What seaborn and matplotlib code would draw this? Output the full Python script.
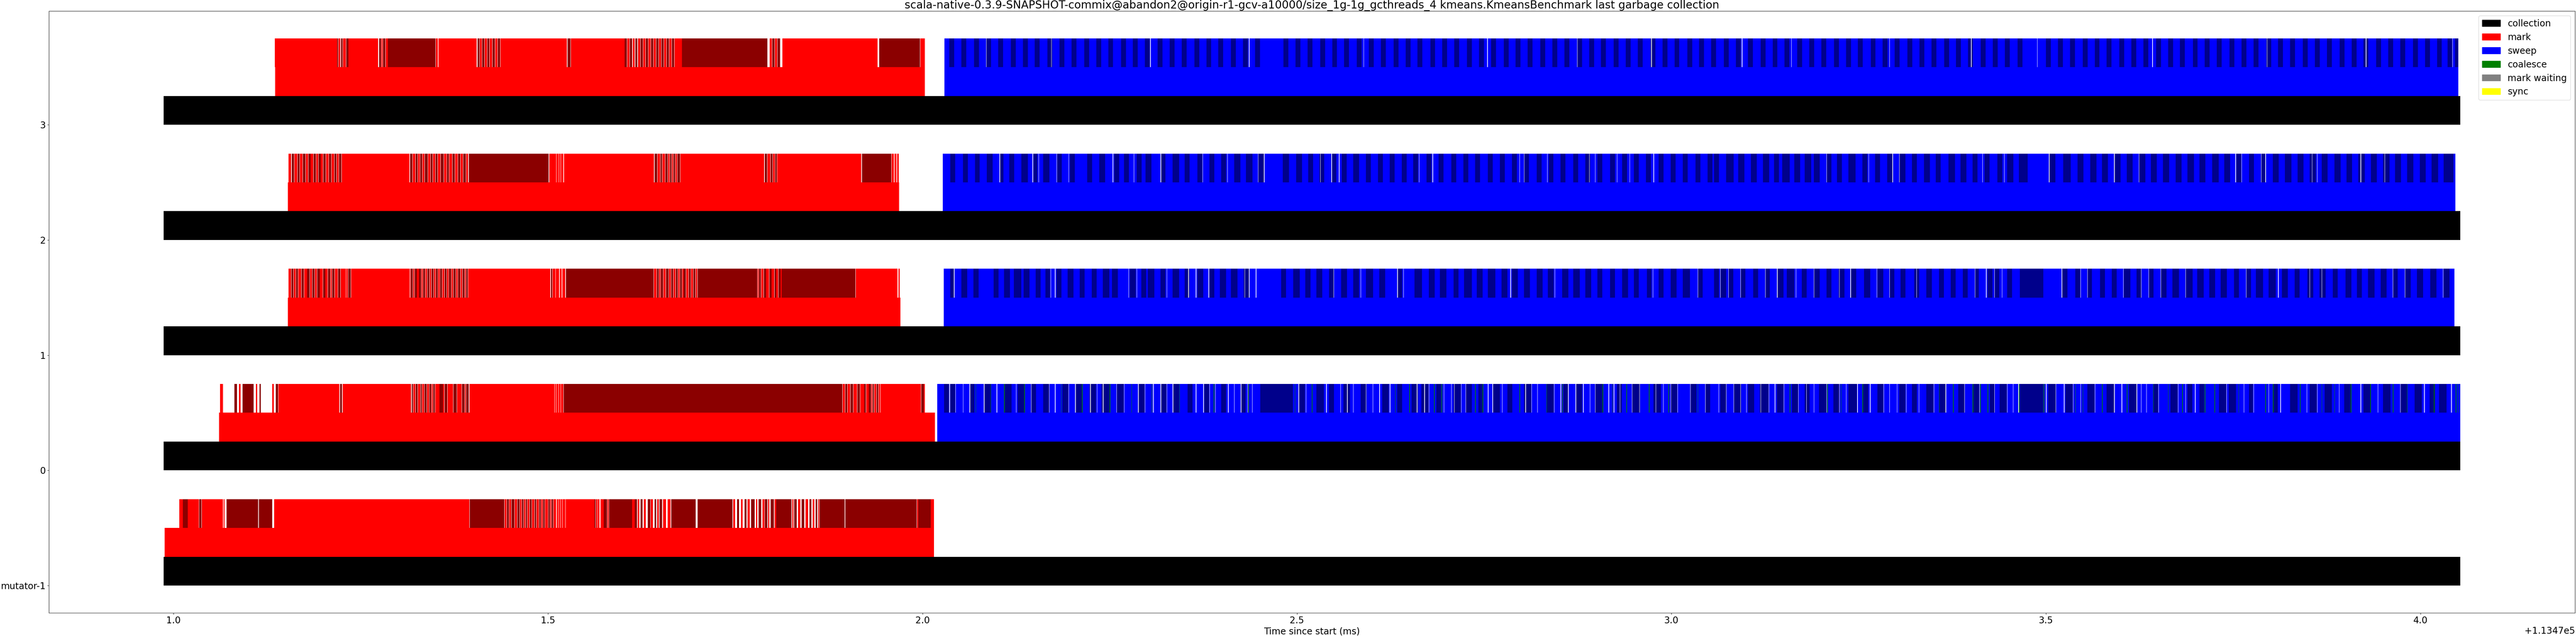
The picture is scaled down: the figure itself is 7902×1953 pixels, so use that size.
import matplotlib
matplotlib.use("Agg")
import matplotlib.pyplot as plt
import matplotlib.patches as mpatches
import seaborn as sns

# ---------------- data (ms, relative to T0) ----------------
T0 = 113470.0
threads = ["mutator-1", "0", "1", "2", "3"]

collection_spans = [(0.987, 4.053), (0.987, 4.053), (0.987, 4.053), (0.987, 4.053), (0.987, 4.053)]
mark_spans = [(0.988, 2.0155), (1.061, 2.0165), (1.1527, 1.9707), (1.1527, 1.969), (1.1358, 2.003)]
sweep_spans = [None, (2.0195, 4.053), (2.0283, 4.0453), (2.027, 4.0466), (2.0295, 4.0505)]
sweep_sub_spans = [None, (2.0195, 4.053), (2.0283, 4.0453), (2.027, 4.0466), (2.0295, 4.0505)]

mark_sub_red = [
    # mutator-1
    [(1.0076,1.0127),(1.0191,1.0340),(1.0377,1.0660),(1.0672,1.0681),(1.1343,1.3950),(1.4420,1.4447),
     (1.4482,1.4508),(1.4556,1.4589),(1.4624,1.4650),(1.4678,1.4701),(1.4726,1.4752),(1.4787,1.4819),
     (1.4848,1.4880),(1.4908,1.4931),(1.4963,1.4999),(1.5030,1.5046),(1.5074,1.5110),(1.5116,1.5140),
     (1.5146,1.5165),(1.5170,1.5190),(1.5196,1.5232),(1.5235,1.5621),(1.5640,1.5660),(1.5668,1.5690),
     (1.5700,1.5745),(1.5792,1.5810),(1.6125,1.6156),(1.6197,1.6220),(1.6278,1.6305),(1.6373,1.6400),
     (1.6457,1.6481),(1.6535,1.6576),(1.6599,1.6637),(1.7473,1.7497),(1.7575,1.7598),(1.7666,1.7693),
     (1.7778,1.7795),(1.7863,1.7890),(1.7937,1.7957),(1.8025,1.8045),(1.8259,1.8276),(1.8337,1.8370),
     (1.8438,1.8472),(1.8533,1.8557),(1.8608,1.8622),(1.9928,1.9945),(2.0108,2.0155)],
    # 0
    [(1.0621,1.0662),(1.0875,1.0895),(1.1102,1.1119),(1.1319,1.1342),(1.1403,1.2216),(1.2260,1.3174),
     (1.3202,1.3228),(1.3263,1.3295),(1.3320,1.3346),(1.3385,1.3414),(1.3446,1.3465),(1.3496,1.3549),
     (1.3601,1.3617),(1.3659,1.3736),(1.3784,1.3847),(1.3889,1.3905),(1.3950,1.5087),(1.5091,1.5110),
     (1.5115,1.5140),(1.5145,1.5170),(1.5176,1.5207),(1.8933,1.8966),(1.9001,1.9037),(1.9079,1.9128),
     (1.9170,1.9220),(1.9248,1.9281),(1.9316,1.9331),(1.9356,1.9382),(1.9414,1.9437),(1.9440,1.9979),
     (2.0019,2.0030)],
    # 1
    [(1.1535,1.1572),(1.1607,1.1630),(1.1668,1.1707),(1.1746,1.1782),(1.1824,1.1850),(1.1888,1.1914),
     (1.1956,1.1992),(1.2030,1.2060),(1.2098,1.2117),(1.2152,1.2192),(1.2233,1.2300),(1.2305,1.2330),
     (1.2372,1.3150),(1.3154,1.3163),(1.3198,1.3218),(1.3253,1.3275),(1.3310,1.3329),(1.3364,1.3387),
     (1.3422,1.3441),(1.3476,1.3499),(1.3534,1.3556),(1.3591,1.3617),(1.3652,1.3675),(1.3710,1.3736),
     (1.3771,1.3797),(1.3832,1.3854),(1.3889,1.3905),(1.3933,1.5030),(1.5063,1.5100),(1.5105,1.5150),
     (1.5155,1.5185),(1.5190,1.5232),(1.6416,1.6450),(1.6485,1.6504),(1.6539,1.6572),(1.6614,1.6640),
     (1.6675,1.6701),(1.6736,1.6758),(1.6793,1.6809),(1.6844,1.6877),(1.6912,1.6938),(1.6973,1.6995),
     (1.7798,1.7811),(1.7846,1.7879),(1.7914,1.7953),(1.7988,1.8021),(1.8049,1.8075),(1.8110,1.8120),
     (1.9109,1.9664),(1.9677,1.9698)],
    # 2
    [(1.1535,1.1572),(1.1614,1.1652),(1.1688,1.1724),(1.1766,1.1799),(1.1834,1.1867),(1.1905,1.1931),
     (1.1969,1.1999),(1.2037,1.2073),(1.2112,1.2144),(1.2179,1.2205),(1.2244,1.3150),(1.3195,1.3228),
     (1.3263,1.3289),(1.3324,1.3353),(1.3398,1.3431),(1.3463,1.3495),(1.3530,1.3566),(1.3612,1.3648),
     (1.3683,1.3722),(1.3761,1.3797),(1.3835,1.3864),(1.3906,1.3936),(1.5020,1.5110),(1.5114,1.5145),
     (1.5150,1.5172),(1.5176,1.5206),(1.5215,1.6413),(1.6461,1.6497),(1.6529,1.6562),(1.6600,1.6623),
     (1.6654,1.6673),(1.6702,1.6724),(1.6766,1.7887),(1.7928,1.7967),(1.8002,1.8028),(1.8060,1.9181),
     (1.9587,1.9620),(1.9625,1.9655),(1.9660,1.9684)],
    # 3
    [(1.1352,1.2185),(1.2200,1.2230),(1.2265,1.2300),(1.2339,1.2734),(1.2775,1.2795),(1.2835,1.2862),
     (1.3505,1.3530),(1.3540,1.4049),(1.4090,1.4115),(1.4155,1.4185),(1.4220,1.4255),(1.4295,1.4325),
     (1.4365,1.5255),(1.5305,1.6023),(1.6060,1.6090),(1.6130,1.6160),(1.6200,1.6230),(1.6270,1.6300),
     (1.6340,1.6370),(1.6410,1.6440),(1.6480,1.6510),(1.6550,1.6580),(1.6620,1.6650),(1.6690,1.6788),
     (1.7960,1.7990),(1.8030,1.8060),(1.8128,1.9400),(1.9970,2.0030)],
]

mark_sub_dark = [
    # mutator-1
    [(1.0127,1.0191),(1.0345,1.0372),(1.0709,1.1131),(1.1140,1.1320),(1.3956,1.4417),(1.4451,1.4478),
     (1.4512,1.4552),(1.4593,1.4620),(1.4654,1.4674),(1.4705,1.4722),(1.4756,1.4783),(1.4823,1.4844),
     (1.4884,1.4904),(1.4935,1.4959),(1.5003,1.5026),(1.5050,1.5070),(1.5621,1.5634),(1.5745,1.5788),
     (1.5814,1.6125),(1.6156,1.6190),(1.6237,1.6264),(1.6332,1.6366),(1.6423,1.6447),(1.6488,1.6525),
     (1.6644,1.6972),(1.7000,1.7466),(1.7524,1.7551),(1.7625,1.7649),(1.7710,1.7761),(1.7812,1.7846),
     (1.7896,1.7930),(1.7971,1.8015),(1.8049,1.8252),(1.8286,1.8320),(1.8387,1.8421),(1.8489,1.8516),
     (1.8574,1.8597),(1.8624,1.8963),(1.8970,1.9921),(1.9945,2.0108)],
    # 0
    [(1.0814,1.0848),(1.0922,1.1071),(1.1149,1.1166),(1.1366,1.1396),(1.2223,1.2250),(1.3181,1.3198),
     (1.3232,1.3259),(1.3299,1.3316),(1.3350,1.3381),(1.3418,1.3442),(1.3469,1.3492),(1.3553,1.3597),
     (1.3621,1.3655),(1.3740,1.3780),(1.3851,1.3885),(1.3909,1.3943),(1.5211,1.8929),(1.8970,1.8997),
     (1.9041,1.9075),(1.9132,1.9166),(1.9224,1.9244),(1.9285,1.9312),(1.9335,1.9352),(1.9386,1.9410),
     (1.9986,2.0019)],
    # 1
    [(1.1576,1.1603),(1.1634,1.1664),(1.1711,1.1742),(1.1786,1.1820),(1.1854,1.1884),(1.1918,1.1952),
     (1.1996,1.2026),(1.2064,1.2094),(1.2121,1.2148),(1.2196,1.2229),(1.2334,1.2368),(1.3167,1.3194),
     (1.3222,1.3249),(1.3279,1.3306),(1.3333,1.3360),(1.3391,1.3418),(1.3445,1.3472),(1.3503,1.3530),
     (1.3560,1.3587),(1.3621,1.3648),(1.3679,1.3706),(1.3740,1.3767),(1.3801,1.3828),(1.3858,1.3885),
     (1.3909,1.3929),(1.5040,1.5058),(1.5238,1.6410),(1.6454,1.6481),(1.6508,1.6535),(1.6576,1.6610),
     (1.6644,1.6671),(1.6705,1.6732),(1.6762,1.6789),(1.6813,1.6840),(1.6881,1.6908),(1.6942,1.6969),
     (1.6999,1.7795),(1.7815,1.7842),(1.7883,1.7910),(1.7957,1.7984),(1.8025,1.8045),(1.8079,1.8106),
     (1.8123,1.9105)],
    # 2
    [(1.1579,1.1610),(1.1657,1.1684),(1.1728,1.1762),(1.1803,1.1830),(1.1871,1.1901),(1.1935,1.1965),
     (1.2003,1.2033),(1.2077,1.2108),(1.2148,1.2175),(1.2209,1.2240),(1.3161,1.3191),(1.3232,1.3259),
     (1.3293,1.3320),(1.3357,1.3394),(1.3435,1.3459),(1.3499,1.3526),(1.3570,1.3608),(1.3652,1.3679),
     (1.3726,1.3757),(1.3801,1.3831),(1.3868,1.3902),(1.3943,1.5010),(1.6423,1.6457),(1.6501,1.6525),
     (1.6566,1.6596),(1.6627,1.6650),(1.6677,1.6698),(1.6728,1.6762),(1.7896,1.7924),(1.7971,1.7998),
     (1.8032,1.8056),(1.9190,1.9583)],
    # 3
    [(1.2185,1.2198),(1.2235,1.2260),(1.2305,1.2335),(1.2745,1.2770),(1.2800,1.2830),(1.2865,1.3501),
     (1.4060,1.4085),(1.4120,1.4150),(1.4190,1.4215),(1.4260,1.4290),(1.4330,1.4360),(1.5260,1.5300),
     (1.6025,1.6055),(1.6095,1.6125),(1.6165,1.6195),(1.6235,1.6265),(1.6305,1.6335),(1.6375,1.6405),
     (1.6445,1.6475),(1.6515,1.6545),(1.6585,1.6615),(1.6655,1.6685),(1.6790,1.7931),(1.7995,1.8025),
     (1.8065,1.8100),(1.9422,1.9968)],
]

# dark sweep stripes: (start, duration)
sweep_sub_dark = [
    [],
    # 0
    [(2.029,.0065),(2.037,.0065),(2.063,.0065),(2.082,.009),(2.109,.0098),(2.127,.009),(2.145,.0065),
     (2.161,.0078),(2.187,.0078),(2.204,.0098),(2.223,.0085),(2.239,.011),(2.259,.0098),(2.288,.0085),
     (2.318,.0078),(2.334,.0085),(2.354,.0065),(2.376,.0065),(2.399,.0065),(2.425,.0065),(2.451,.0437),
     (2.502,.0085),(2.526,.0098),(2.543,.0065),(2.562,.0085),(2.585,.0078),(2.614,.0085),(2.634,.0065),
     (2.653,.0085),(2.666,.0098),(2.686,.0065),(2.709,.0098),(2.725,.0085),(2.742,.0065),(2.761,.0098),
     (2.781,.0065),(2.803,.0098),(2.833,.0098),(2.856,.0065),(2.872,.0085),(2.898,.0098),(2.927,.0065),
     (2.947,.011),(2.976,.0098),(2.999,.0085),(3.025,.0085),(3.045,.0065),(3.065,.0078),(3.083,.0098),
     (3.102,.0085),(3.118,.0117),(3.141,.0085),(3.161,.0085),(3.178,.0065),(3.197,.0098),(3.216,.0078),
     (3.236,.0117),(3.255,.0078),(3.275,.0078),(3.304,.0085),(3.321,.0065),(3.340,.0098),(3.357,.0098),
     (3.383,.0085),(3.402,.0085),(3.425,.0065),(3.438,.0098),(3.465,.0313),(3.503,.0098),(3.526,.0098),
     (3.555,.0098),(3.581,.0098),(3.611,.0098),(3.643,.0065),(3.666,.0098),(3.689,.0065),(3.705,.0065),
     (3.731,.0098),(3.744,.0098),(3.771,.0052),(3.803,.0065),(3.826,.0098),(3.852,.0098),(3.872,.0098),
     (3.898,.0098),(3.924,.0098),(3.950,.0098),(3.973,.0098),(3.992,.0098),(4.012,.0078),(4.025,.0098)],
    # 1
    [(2.037,.0052),(2.052,.0078),(2.068,.0072),(2.095,.0065),(2.109,.0078),(2.122,.0098),(2.135,.0078),
     (2.151,.0065),(2.164,.0065),(2.179,.0065),(2.194,.0078),(2.210,.0065),(2.226,.0065),(2.241,.0085),
     (2.253,.0078),(2.277,.0078),(2.292,.0065),(2.301,.0085),(2.318,.0065),(2.334,.0085),(2.350,.0065),
     (2.367,.0078),(2.383,.0065),(2.397,.0085),(2.412,.0085),(2.429,.0078),(2.479,.0065),(2.495,.0085),
     (2.511,.0072),(2.526,.0078),(2.543,.0065),(2.559,.0078),(2.575,.0078),(2.592,.0098),(2.610,.0078),
     (2.634,.0065),(2.657,.0098),(2.676,.0078),(2.691,.0085),(2.709,.0065),(2.723,.0104),(2.740,.0078),
     (2.755,.0098),(2.773,.0078),(2.787,.0078),(2.803,.0078),(2.820,.0078),(2.835,.0078),(2.854,.0085),
     (2.869,.0085),(2.885,.0078),(2.901,.0065),(2.918,.0065),(2.934,.0078),(2.950,.0065),(2.967,.0065),
     (2.983,.0065),(2.999,.0078),(3.015,.0098),(3.035,.0065),(3.057,.0065),(3.065,.0078),(3.076,.0065),
     (3.092,.0065),(3.109,.0065),(3.125,.0065),(3.141,.0085),(3.154,.0098),(3.174,.0065),(3.190,.0078),
     (3.207,.0065),(3.223,.0078),(3.239,.0078),(3.257,.0085),(3.275,.0078),(3.291,.0065),(3.306,.0065),
     (3.324,.0065),(3.340,.0078),(3.357,.0065),(3.373,.0065),(3.389,.0065),(3.405,.0052),(3.422,.0065),
     (3.431,.0065),(3.448,.0065),(3.465,.0313),(3.521,.0078),(3.539,.0065),(3.555,.0065),(3.572,.0065),
     (3.588,.0065),(3.604,.0085),(3.621,.0065),(3.637,.0065),(3.653,.0078),(3.669,.0085),(3.686,.0098),
     (3.702,.0085),(3.718,.0078),(3.733,.0085),(3.751,.0065),(3.767,.0065),(3.780,.0098),(3.797,.0098),
     (3.815,.0078),(3.832,.0065),(3.849,.0078),(3.865,.0085),(3.883,.0065),(3.900,.0078),(3.915,.0065),
     (3.930,.0085),(3.947,.0078),(3.963,.0065),(3.979,.0078),(3.995,.0085),(4.013,.0085),(4.031,.0078)],
    # 2
    [(2.037,.0065),(2.054,.0065),(2.070,.0065),(2.086,.0078),(2.103,.0052),(2.116,.0065),(2.132,.0085),
     (2.148,.0052),(2.161,.0085),(2.180,.0058),(2.197,.0065),(2.220,.0065),(2.236,.0078),(2.256,.0065),
     (2.269,.0065),(2.286,.0065),(2.298,.0078),(2.318,.0065),(2.334,.0085),(2.350,.0065),(2.367,.0065),
     (2.383,.0065),(2.399,.0065),(2.416,.0085),(2.432,.0085),(2.448,.0078),(2.481,.0085),(2.499,.0078),
     (2.515,.0065),(2.530,.0065),(2.546,.0065),(2.560,.0065),(2.575,.0078),(2.592,.0065),(2.608,.0065),
     (2.624,.0065),(2.640,.0065),(2.655,.0065),(2.673,.0065),(2.689,.0065),(2.706,.0065),(2.722,.0065),
     (2.738,.0065),(2.755,.0065),(2.771,.0065),(2.787,.0065),(2.803,.0065),(2.820,.0065),(2.836,.0065),
     (2.852,.0065),(2.869,.0065),(2.885,.0065),(2.901,.0065),(2.918,.0065),(2.934,.0065),(2.950,.0065),
     (2.966,.0065),(2.983,.0065),(2.999,.0065),(3.015,.0065),(3.032,.0065),(3.048,.0065),(3.057,.0065),
     (3.073,.0098),(3.089,.0085),(3.106,.0078),(3.122,.0085),(3.137,.0065),(3.148,.0098),(3.164,.0078),
     (3.178,.0085),(3.190,.0078),(3.207,.0065),(3.221,.0065),(3.236,.0098),(3.255,.0065),(3.272,.0065),
     (3.288,.0078),(3.304,.0085),(3.321,.0065),(3.337,.0078),(3.353,.0065),(3.370,.0085),(3.386,.0078),
     (3.402,.0065),(3.418,.0065),(3.435,.0065),(3.448,.0085),(3.464,.0117),(3.504,.0085),(3.523,.0098),
     (3.542,.0078),(3.559,.0085),(3.575,.0078),(3.591,.0085),(3.608,.0078),(3.624,.0085),(3.640,.0078),
     (3.656,.0085),(3.673,.0078),(3.689,.0085),(3.705,.0078),(3.722,.0085),(3.738,.0078),(3.754,.0065),
     (3.771,.0065),(3.787,.0065),(3.803,.0078),(3.819,.0085),(3.836,.0078),(3.852,.0085),(3.868,.0078),
     (3.885,.0085),(3.901,.0078),(3.917,.0085),(3.934,.0078),(3.950,.0085),(3.966,.0078),(3.982,.0085),
     (3.999,.0078),(4.015,.0085),(4.031,.013)],
    # 3
    [(2.036,.0065),(2.052,.0065),(2.069,.0065),(2.085,.0065),(2.101,.0065),(2.118,.0065),(2.134,.0065),
     (2.150,.0065),(2.167,.0065),(2.183,.0065),(2.199,.0065),(2.216,.0065),(2.232,.0065),(2.248,.0065),
     (2.265,.0065),(2.281,.0065),(2.297,.0065),(2.314,.0065),(2.330,.0065),(2.346,.0065),(2.363,.0065),
     (2.379,.0065),(2.395,.0065),(2.412,.0065),(2.428,.0065),(2.444,.0065),(2.482,.0065),(2.498,.0065),
     (2.514,.0065),(2.531,.0065),(2.547,.0065),(2.563,.0065),(2.580,.0065),(2.596,.0065),(2.612,.0065),
     (2.629,.0065),(2.645,.0065),(2.661,.0065),(2.678,.0065),(2.694,.0065),(2.710,.0065),(2.727,.0065),
     (2.743,.0065),(2.759,.0065),(2.776,.0065),(2.792,.0065),(2.808,.0065),(2.825,.0065),(2.841,.0065),
     (2.857,.0065),(2.874,.0065),(2.890,.0065),(2.906,.0065),(2.923,.0065),(2.939,.0065),(2.955,.0065),
     (2.972,.0065),(2.988,.0065),(3.004,.0065),(3.021,.0065),(3.037,.0065),(3.053,.0065),(3.070,.0065),
     (3.086,.0065),(3.102,.0065),(3.119,.0065),(3.135,.0065),(3.151,.0065),(3.168,.0065),(3.184,.0065),
     (3.200,.0065),(3.217,.0065),(3.233,.0065),(3.249,.0065),(3.266,.0065),(3.282,.0065),(3.298,.0065),
     (3.315,.0065),(3.331,.0065),(3.347,.0065),(3.364,.0065),(3.380,.0065),(3.396,.0065),(3.413,.0065),
     (3.429,.0065),(3.445,.0065),(3.462,.0065),(3.500,.0065),(3.516,.0065),(3.532,.0065),(3.549,.0065),
     (3.565,.0065),(3.581,.0065),(3.598,.0065),(3.614,.0065),(3.630,.0065),(3.647,.0065),(3.663,.0065),
     (3.679,.0065),(3.696,.0065),(3.712,.0065),(3.728,.0065),(3.745,.0065),(3.761,.0065),(3.777,.0065),
     (3.794,.0065),(3.810,.0065),(3.826,.0065),(3.843,.0065),(3.859,.0065),(3.875,.0065),(3.892,.0065),
     (3.908,.0065),(3.924,.0065),(3.941,.0065),(3.957,.0065),(3.973,.0065),(3.990,.0065),(4.006,.0065),
     (4.022,.0065),(4.036,.0061),(4.046,.0045)],
]

# idle moments between sweep batches (thin gaps in the sub-row)
sweep_sub_idle = [
    [],
    [2.036,2.044,2.054,2.063,2.071,2.082,2.091,2.099,2.125,2.145,2.169,2.177,2.195,2.204,2.224,2.233,
     2.241,2.259,2.269,2.279,2.288,2.297,2.308,2.318,2.326,2.334,2.365,2.375,2.383,2.391,2.408,2.416,
     2.425,2.434,2.440,2.497,2.502,2.512,2.539,2.558,2.567,2.575,2.592,2.601,2.610,2.624,2.660,2.670,
     2.676,2.696,2.706,2.710,2.719,2.725,2.755,2.761,2.774,2.797,2.805,2.813,2.821,2.843,2.852,2.862,
     2.872,2.882,2.891,2.898,2.908,2.916,2.923,2.931,2.947,2.957,2.970,2.979,2.989,2.999,3.008,3.025,
     3.035,3.045,3.063,3.073,3.083,3.092,3.100,3.119,3.130,3.138,3.150,3.158,3.169,3.180,3.190,3.207,
     3.224,3.233,3.248,3.265,3.283,3.291,3.301,3.313,3.330,3.350,3.366,3.376,3.391,3.411,3.422,3.431,
     3.448,3.456,3.463,3.500,3.513,3.524,3.536,3.546,3.565,3.575,3.591,3.601,3.621,3.627,3.634,3.650,
     3.663,3.676,3.686,3.699,3.712,3.741,3.764,3.777,3.797,3.813,3.839,3.848,3.862,3.891,3.907,3.920,
     3.943,3.963,3.973,4.005,4.041],
    [2.042,2.171,2.177,2.275,2.286,2.326,2.355,2.365,2.382,2.430,2.436,2.445,2.549,2.585,2.634,2.642,
     2.785,2.844,2.975,3.035,3.065,3.076,3.092,3.125,3.141,3.166,3.190,3.224,3.239,3.274,3.291,3.327,
     3.405,3.420,3.431,3.441,3.521,3.546,3.555,3.603,3.627,3.637,3.653,3.686,3.767,3.810,3.852,3.868,
     3.963,3.979,4.030],
    [2.103,2.147,2.155,2.179,2.195,2.254,2.282,2.318,2.374,2.407,2.448,2.456,2.531,2.546,2.556,2.663,
     2.681,2.797,2.803,2.834,2.890,2.898,2.927,2.944,2.976,3.207,3.263,3.295,3.304,3.415,3.444,3.504,
     3.591,3.624,3.753,3.761,3.787,3.793,3.855,3.862,3.920,3.952],
    [2.085,2.172,2.304,2.436,2.589,2.754,2.874,2.973,3.094,3.160,3.291,3.400,3.488,3.642,3.795,3.927,
     4.0425],
]

coalesce_times = [
    [],
    [2.071,2.091,2.109,2.136,2.185,2.213,2.250,2.279,2.306,2.343,2.389,2.435,2.497,2.520,2.631,2.650,
     2.683,2.693,2.738,2.748,2.797,2.833,2.854,2.908,2.921,2.940,2.970,2.996,3.035,3.158,3.208,3.226,
     3.255,3.357,3.376,3.402,3.412,3.422,3.464,3.497,3.539,3.549,3.575,3.608,3.643,3.663,3.682,3.712,
     3.725,3.757,3.793,3.803,3.839,3.868,3.885,3.907,3.933,3.963,3.982,4.018,4.047,4.050],
    [], [], [],
]

legend_labels = ["collection", "mark", "sweep", "coalesce", "mark waiting", "sync"]
legend_colors = ["black", "red", "blue", "green", "grey", "yellow"]
TITLE = ("scala-native-0.3.9-SNAPSHOT-commix@abandon2@origin-r1-gcv-a10000/size_1g-1g_gcthreads_4 "
         "kmeans.KmeansBenchmark last garbage collection")

# ---------------- style ----------------
sns.set_theme(style="ticks", rc={
    "axes.edgecolor": "black", "axes.labelcolor": "black", "text.color": "black",
    "xtick.color": "black", "ytick.color": "black", "axes.linewidth": 0.8,
    "xtick.major.size": 3.5, "ytick.major.size": 3.5, "xtick.major.width": 0.8,
    "ytick.major.width": 0.8, "xtick.major.pad": 3.5, "ytick.major.pad": 3.5,
    "patch.force_edgecolor": False,
})
plt.rcParams["font.family"] = ["DejaVu Sans"]
plt.rcParams.update({"font.size": 20, "axes.titlesize": 24, "axes.labelsize": 20,
                     "xtick.labelsize": 20, "ytick.labelsize": 20, "legend.fontsize": 20})

fig = plt.figure(figsize=(79.02, 19.531), dpi=100)
ax = fig.add_axes([0.01898, 0.03635, 0.98064, 0.94624])

H = 0.25
IDLE_W = 0.0006


def spans(lst):
    return [(T0 + s, e - s) for s, e in lst]


def bars(y, items, color):
    if items:
        ax.broken_barh(items, (y, H), facecolors=color, edgecolor="none", linewidth=0)


for i in range(len(threads)):
    bars(i, spans([collection_spans[i]]), "black")
    bars(i + H, spans([mark_spans[i]]), "red")
    if sweep_spans[i]:
        bars(i + H, spans([sweep_spans[i]]), "blue")
        bars(i + 2 * H, spans([sweep_sub_spans[i]]), "blue")
        bars(i + 2 * H, [(T0 + s, w) for s, w in sweep_sub_dark[i]], "darkblue")
        bars(i + 2 * H, [(T0 + t, IDLE_W) for t in sweep_sub_idle[i]], "white")
    bars(i + 2 * H, spans(mark_sub_red[i]), "red")
    bars(i + 2 * H, spans(mark_sub_dark[i]), "darkred")
    if coalesce_times[i]:
        bars(i + 2 * H, [(T0 + t, 0.0007) for t in coalesce_times[i]], "green")

ax.set_yticks(range(len(threads)))
ax.set_yticklabels(threads)
ax.set_xlabel("Time since start (ms)")
ax.set_title(TITLE, pad=0)
ax.margins(x=0.05, y=0.05)

handles = [mpatches.Patch(color=c, label=l) for l, c in zip(legend_labels, legend_colors)]
ax.legend(handles=handles, loc="upper right")

fig.savefig("out.png", dpi=100)
